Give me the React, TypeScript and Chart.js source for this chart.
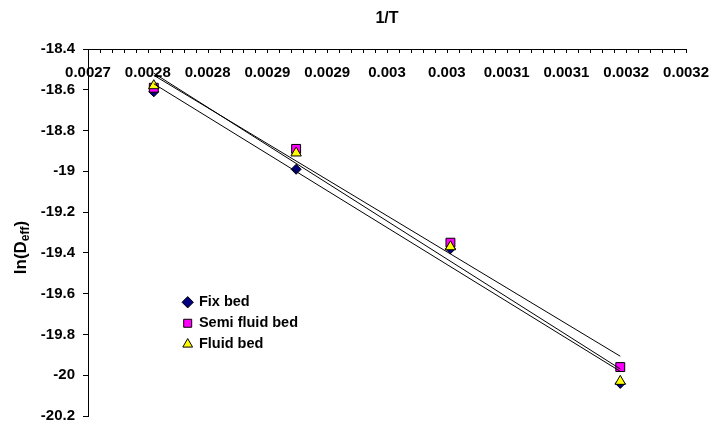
import React, { useEffect, useRef } from 'react';
import { Chart, registerables } from 'chart.js';

Chart.register(...registerables);

// ---- data ----
const inverseT = [0.002755, 0.002874, 0.003003, 0.003145];
const fixBed = [-18.61, -18.99, -19.38, -20.04];
const semiFluidBed = [-18.59, -18.89, -19.35, -19.96];
const fluidBed = [-18.58, -18.91, -19.37, -20.03];
const seriesLabels = ['Fix bed', 'Semi fluid bed', 'Fluid bed'];
const xTickLabels = ['0.0027', '0.0028', '0.0028', '0.0029', '0.0029', '0.003', '0.003', '0.0031', '0.0031', '0.0032', '0.0032'];
const X_MIN = 0.0027;
const X_MAX = 0.0032;
const X_MINOR = 0.00001;
const Y_MIN = -20.2;
const Y_MAX = -18.4;
const Y_STEP = 0.2;
const xTitle = '1/T';
const yTitleMain = 'ln(D';
const yTitleSub = 'eff';
const yTitleEnd = ')';

const FONT = "'Liberation Sans', Arial, Helvetica, sans-serif";

function toPoints(ys: number[]) {
  return inverseT.map((x, i) => ({ x, y: ys[i] }));
}

// least-squares trendline across the data range (like Excel's linear trendline)
function trend(ys: number[]) {
  const n = inverseT.length;
  const mx = inverseT.reduce((a, b) => a + b, 0) / n;
  const my = ys.reduce((a, b) => a + b, 0) / n;
  let sxy = 0;
  let sxx = 0;
  for (let i = 0; i < n; i++) {
    sxy += (inverseT[i] - mx) * (ys[i] - my);
    sxx += (inverseT[i] - mx) * (inverseT[i] - mx);
  }
  const slope = sxy / sxx;
  const b = my - slope * mx;
  const x0 = inverseT[0];
  const x1 = inverseT[n - 1];
  return [
    { x: x0, y: slope * x0 + b },
    { x: x1, y: slope * x1 + b },
  ];
}

const axisDecor = {
  id: 'axisDecor',
  afterDraw(chart: any) {
    const { ctx, chartArea, scales } = chart;
    const sx = scales.x;
    ctx.save();
    ctx.strokeStyle = '#000';
    ctx.lineWidth = 1;
    ctx.beginPath();
    sx.ticks.forEach((t: any) => {
      const px = Math.round(sx.getPixelForValue(t.value)) + 0.5;
      ctx.moveTo(px, chartArea.top);
      ctx.lineTo(px, chartArea.top + 4);
    });
    ctx.stroke();

    // y-axis title with subscript
    const mainFont = `bold 17px ${FONT}`;
    const subFont = `bold 12px ${FONT}`;
    ctx.fillStyle = '#000';
    ctx.textBaseline = 'alphabetic';
    ctx.textAlign = 'left';
    ctx.font = mainFont;
    const w1 = ctx.measureText(yTitleMain).width;
    const w3 = ctx.measureText(yTitleEnd).width;
    ctx.font = subFont;
    const w2 = ctx.measureText(yTitleSub).width;
    const total = w1 + w2 + w3;
    ctx.translate(25.5, 247.5);
    ctx.rotate(-Math.PI / 2);
    let x = -total / 2;
    ctx.font = mainFont;
    ctx.fillText(yTitleMain, x, 0);
    x += w1;
    ctx.font = subFont;
    ctx.fillText(yTitleSub, x, 3);
    x += w2;
    ctx.font = mainFont;
    ctx.fillText(yTitleEnd, x, 0);
    ctx.restore();
  },
};

const placeLegend = {
  id: 'placeLegend',
  beforeDraw(chart: any) {
    const lg = chart.legend;
    if (!lg) return;
    lg.left = 177.2;
    lg.top = 288.5;
    lg.right = lg.left + 220;
    lg.bottom = lg.top + 90;
    lg.width = 220;
    lg.height = 90;
  },
};

export default function App() {
  const canvasRef = useRef<HTMLCanvasElement | null>(null);

  useEffect(() => {
    document.body.style.margin = '0';
    const canvas = canvasRef.current;
    if (!canvas) return;

    const markerCommon = {
      borderColor: '#000000',
      borderWidth: 1,
      showLine: false,
    };
    const lineCommon = {
      borderColor: '#000000',
      borderWidth: 1,
      pointRadius: 0,
      showLine: true,
      fill: false,
      order: 0,
    };

    const chart = new Chart(canvas, {
      type: 'scatter',
      data: {
        datasets: [
          {
            ...markerCommon,
            label: seriesLabels[0],
            data: toPoints(fixBed),
            pointStyle: 'rectRot',
            pointRadius: 5,
            backgroundColor: '#000080',
            order: 4,
          },
          {
            ...markerCommon,
            label: seriesLabels[1],
            data: toPoints(semiFluidBed),
            pointStyle: 'rect',
            pointRadius: 6.3,
            backgroundColor: '#FF00FF',
            order: 3,
          },
          {
            ...markerCommon,
            label: seriesLabels[2],
            data: toPoints(fluidBed),
            pointStyle: 'triangle',
            pointRadius: 6,
            backgroundColor: '#FFFF00',
            order: 2,
          },
          { ...lineCommon, label: 'trend1', data: trend(fixBed) },
          { ...lineCommon, label: 'trend2', data: trend(semiFluidBed) },
          { ...lineCommon, label: 'trend3', data: trend(fluidBed) },
        ] as any,
      },
      options: {
        responsive: false,
        animation: false,
        events: [],
        layout: { padding: { left: 0, right: 26, top: 0, bottom: 10 } },
        plugins: {
          tooltip: { enabled: false },
          title: {
            display: true,
            text: xTitle,
            fullSize: false,
            color: '#000',
            font: { family: FONT, size: 16, weight: 'bold' },
            padding: { top: 9, bottom: 0 },
          },
          legend: {
            display: true,
            position: 'chartArea',
            align: 'start',
            labels: {
              usePointStyle: true,
              boxWidth: 8,
              boxHeight: 8,
              padding: 6.5,
              color: '#000',
              font: { family: FONT, size: 14.5, weight: 'bold' },
              filter: (item: any) => item.datasetIndex < 3,
              sort: (a: any, b: any) => a.datasetIndex - b.datasetIndex,
            },
          },
        },
        scales: {
          x: {
            type: 'linear',
            position: 'top',
            min: X_MIN,
            max: X_MAX,
            afterFit: (s: any) => {
              s.height = 49 - 28.2;
            },
            ticks: {
              stepSize: X_MINOR,
              autoSkip: false,
              maxRotation: 0,
              minRotation: 0,
              mirror: true,
              padding: 15,
              color: '#000',
              font: { family: FONT, size: 15, weight: 'bold' },
              callback: (value: any) => {
                const n = Math.round(Number(value) / X_MINOR) - Math.round(X_MIN / X_MINOR);
                if (n % 5 !== 0) return '';
                return xTickLabels[n / 5] ?? '';
              },
            },
            grid: { drawOnChartArea: false, drawTicks: false, color: '#000' },
            border: { display: true, color: '#000', width: 1 },
          },
          y: {
            type: 'linear',
            min: Y_MIN,
            max: Y_MAX,
            afterFit: (s: any) => {
              s.width = 88;
            },
            ticks: {
              stepSize: Y_STEP,
              padding: 8,
              color: '#000',
              font: { family: FONT, size: 15, weight: 'bold' },
              callback: (value: any) => String(parseFloat(Number(value).toFixed(1))),
            },
            grid: { drawOnChartArea: false, drawTicks: true, tickLength: 5, color: '#000' },
            border: { display: true, color: '#000', width: 1 },
          },
        },
      } as any,
      plugins: [axisDecor, placeLegend],
    });

    return () => chart.destroy();
  }, []);

  return (
    <div style={{ width: 724, height: 433, background: '#fff' }}>
      <canvas ref={canvasRef} width={724} height={433} style={{ display: 'block' }} />
    </div>
  );
}
